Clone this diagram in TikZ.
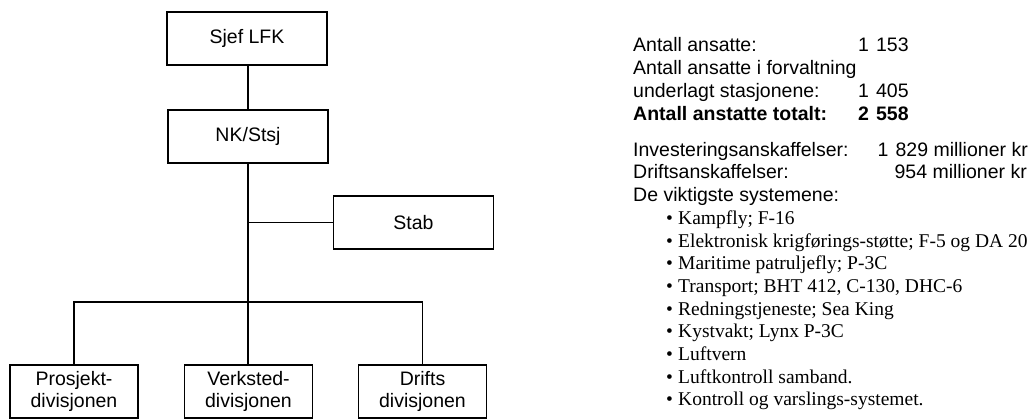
\documentclass[tikz,border=0pt]{standalone}
\usepackage{fontspec}
\setmainfont{Liberation Serif}
\newfontfamily\hv{Liberation Sans}
\newcommand{\thsep}{\kern0.36em}
\begin{document}
\begin{tikzpicture}[x=1pt,y=-1pt,
  orgbox/.style={draw, line width=1.8pt, inner sep=0pt, minimum width=160pt,
    minimum height=53.2pt, align=center, font=\hv\fontsize{19.5}{22.5}\selectfont},
  smallbox/.style={orgbox, minimum width=128pt},
  link/.style={line width=1.8pt},
  thinlink/.style={line width=1.2pt},
  info/.style={anchor=base west, inner sep=0pt, font=\hv\fontsize{19.5}{22.7}\selectfont},
  infoR/.style={info, anchor=base east},
  infoB/.style={info, font=\hv\bfseries\fontsize{19.5}{22.7}\selectfont},
  bul/.style={anchor=base west, inner sep=0pt, font=\fontsize{19.5}{22.7}\selectfont},
]
\useasboundingbox (0,0) rectangle (1034,420);

% organisation chart
\node[orgbox] (sjef) at (247,38.5) {Sjef LFK};
\node[orgbox] (nk) at (248,136.5) {NK/Stsj};
\node[orgbox] (stab) at (413.5,222.5) {Stab};
\node[smallbox] (pro) at (74,391.5) {Prosjekt-\\divisjonen};
\node[smallbox] (verk) at (248.5,391.5) {Verksted-\\divisjonen};
\node[smallbox] (drift) at (422.5,391.5) {Drifts\\divisjonen};

\coordinate (bus) at (248,302);
\draw[thinlink] (nk.north |- sjef.south) -- (nk.north);
\draw[link] (nk.south) -- (nk.south |- verk.north);
\draw[link] (nk.south |- stab.west) -- (stab.west);
\draw[link] (pro.north) -- (pro.north |- bus) -- (drift.north |- bus) -- (drift.north);

% key figures
\node[info] (t1) at (633,52) {Antall ansatte:};
\node[info] (v1) at (858,52) {1\thsep153};
\node[info] (t2) at (633,74.7) {Antall ansatte i forvaltning};
\node[info] (t3) at (633,97.4) {underlagt stasjonene:};
\node[info] (v3) at (858,97.4) {1\thsep405};
\node[infoB] (t4) at (633,120.1) {Antall anstatte totalt:};
\node[infoB] (v4) at (858,120.1) {2\thsep558};
\node[info] (t5) at (633,156) {Investeringsanskaffelser:};
\node[infoR] (v5) at (1028,156) {1\thsep829 millioner kr};
\node[info] (t6) at (633,178.7) {Driftsanskaffelser:};
\node[infoR] (v6) at (1027,178.7) {954 millioner kr};
\node[info] (t7) at (633,201.4) {De viktigste systemene:};

% list of systems
\foreach \txt [count=\i from 0] in {
  {Kampfly; F-16},
  {Elektronisk krigførings-støtte; F-5 og DA 20},
  {Maritime patruljefly; P-3C},
  {Transport; BHT 412, C-130, DHC-6},
  {Redningstjeneste; Sea King},
  {Kystvakt; Lynx P-3C},
  {Luftvern},
  {Luftkontroll samband.},
  {Kontroll og varslings-systemet.}} {
  \node[bul] (dot\i) at (666,224.3+\i*22.7) {•};
  \node[bul] (sys\i) at (678,224.3+\i*22.7) {\txt};
}
\end{tikzpicture}
\end{document}
